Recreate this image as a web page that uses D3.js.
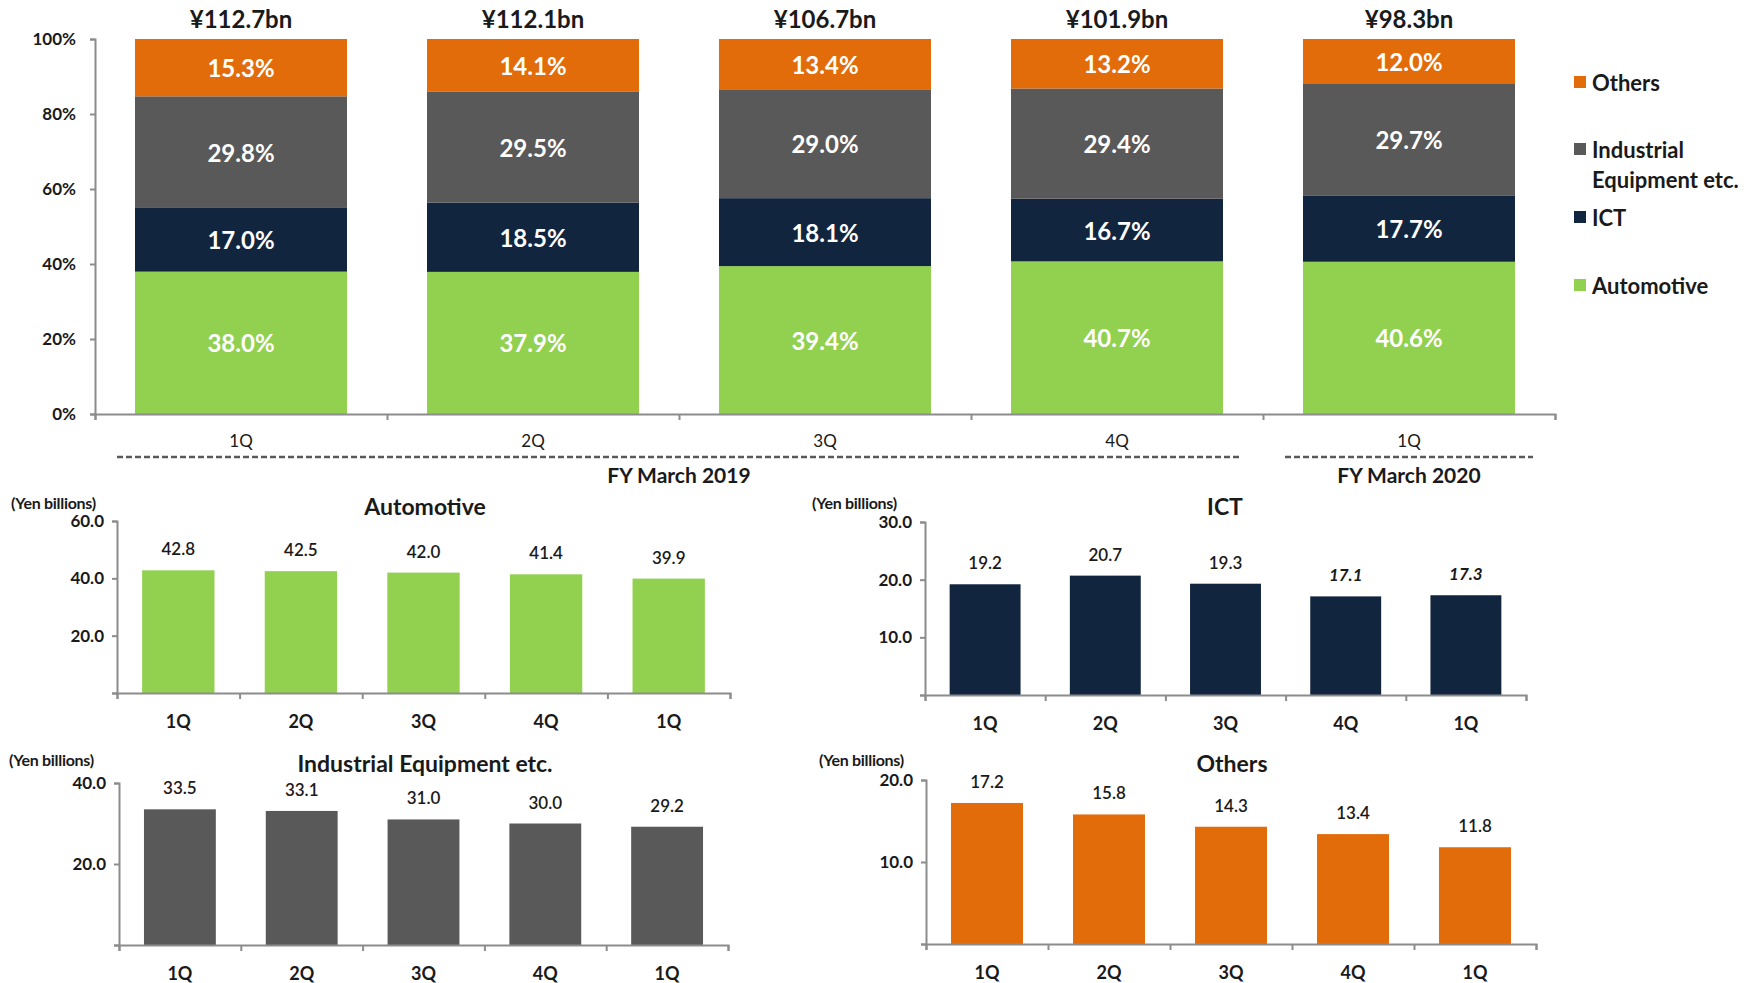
<!DOCTYPE html>
<html>
<head>
<meta charset="utf-8">
<script src="https://cdn.jsdelivr.net/npm/d3@7"></script>
<style>
  body { margin: 0; background: #fff; }
  svg text { font-family: Lato, "Open Sans", sans-serif; fill: #1a1a1a; }
  .axis path, .axis line { stroke: #8c8c8c; stroke-width: 2; }
  .axis text { font-size: 16px; font-weight: bold; fill: #1a1a1a; }
</style>
</head>
<body>
<div id="chart"></div>
<script>
// data
const quarters = ["1Q", "2Q", "3Q", "4Q", "1Q"];
const totals = [112.7, 112.1, 106.7, 101.9, 98.3];

const automotiveShare = [38.0, 37.9, 39.4, 40.7, 40.6];
const ictShare = [17.0, 18.5, 18.1, 16.7, 17.7];
const industrialShare = [29.8, 29.5, 29.0, 29.4, 29.7];
const othersShare = [15.3, 14.1, 13.4, 13.2, 12.0];
const shareTicks = [0, 20, 40, 60, 80, 100];

const automotiveSales = [42.8, 42.5, 42.0, 41.4, 39.9];
const ictSales = [19.2, 20.7, 19.3, 17.1, 17.3];
const industrialSales = [33.5, 33.1, 31.0, 30.0, 29.2];
const othersSales = [17.2, 15.8, 14.3, 13.4, 11.8];

const automotiveTicks = [0, 20, 40, 60];
const ictTicks = [0, 10, 20, 30];
const industrialTicks = [0, 20, 40];
const othersTicks = [0, 10, 20];

const fiscalYears = ["FY March 2019", "FY March 2020"];

const colors = {
    Automotive: "#92d050",
    ICT: "#12253f",
    Industrial: "#595959",
    Others: "#e36c0a"
};

const width = 1753;
const height = 983;

const svg = d3.select("#chart")
    .append("svg")
    .attr("width", width)
    .attr("height", height);

// ---------- top stacked chart ----------
const keys = ["Automotive", "ICT", "Industrial", "Others"];
const shareRows = quarters.map((q, i) => ({
    i: i,
    Automotive: automotiveShare[i],
    ICT: ictShare[i],
    Industrial: industrialShare[i],
    Others: othersShare[i]
}));

const topLeft = 95, topRight = 1555, topY0 = 414, topY1 = 39;

const xTop = d3.scaleBand()
    .domain(d3.range(quarters.length))
    .range([topLeft, topRight])
    .paddingInner(0.274)
    .paddingOuter(0.137);

const xTopEdges = d3.scaleLinear()
    .domain([0, quarters.length])
    .range([topLeft, topRight]);

const yTop = d3.scaleLinear()
    .domain([0, 1])
    .range([topY0, topY1]);

const stacked = d3.stack()
    .keys(keys)
    .offset(d3.stackOffsetExpand)(shareRows);

const topChart = svg.append("g");

topChart.selectAll("g.layer")
    .data(stacked)
    .join("g")
    .attr("class", "layer")
    .attr("fill", d => colors[d.key])
    .selectAll("rect")
    .data(d => d)
    .join("rect")
    .attr("x", d => xTop(d.data.i))
    .attr("width", xTop.bandwidth())
    .attr("y", d => yTop(d[1]))
    .attr("height", d => yTop(d[0]) - yTop(d[1]));

topChart.selectAll("g.labels")
    .data(stacked)
    .join("g")
    .attr("class", "labels")
    .selectAll("text")
    .data(d => d.map(p => ({ p: p, key: d.key })))
    .join("text")
    .attr("x", d => xTop(d.p.data.i) + xTop.bandwidth() / 2)
    .attr("y", d => (yTop(d.p[0]) + yTop(d.p[1])) / 2)
    .attr("text-anchor", "middle")
    .attr("dominant-baseline", "central")
    .style("fill", "#fff")
    .style("font-size", "24px")
    .style("font-weight", "bold")
    .text(d => d.p.data[d.key].toFixed(1) + "%");

// totals above bars
topChart.selectAll("text.total")
    .data(totals)
    .join("text")
    .attr("class", "total")
    .attr("x", (d, i) => xTop(i) + xTop.bandwidth() / 2)
    .attr("y", 28)
    .attr("text-anchor", "middle")
    .style("font-size", "24px")
    .style("font-weight", "bold")
    .text(d => "¥" + d.toFixed(1) + "bn");

topChart.append("g")
    .attr("class", "axis")
    .attr("transform", `translate(${topLeft},0)`)
    .call(d3.axisLeft(yTop)
        .tickValues(shareTicks.map(t => t / 100))
        .tickSize(5)
        .tickPadding(14)
        .tickFormat(d => Math.round(d * 100) + "%"))
    .call(g => g.selectAll("text").style("font-size", "17px"));

topChart.append("g")
    .attr("class", "axis")
    .attr("transform", `translate(0,${topY0})`)
    .call(d3.axisBottom(xTopEdges)
        .tickValues(d3.range(quarters.length + 1))
        .tickSize(6)
        .tickSizeOuter(6)
        .tickFormat(""));

topChart.append("g")
    .attr("class", "axis")
    .attr("transform", `translate(0,${topY0})`)
    .call(d3.axisBottom(xTop).tickSize(0).tickPadding(21).tickFormat(i => quarters[i]))
    .call(g => g.select(".domain").remove())
    .call(g => g.selectAll("text").style("font-weight", "normal").style("font-size", "17px"));

// fiscal year brackets
const fyRanges = [[0, 4], [4, 5]];
fyRanges.forEach((r, k) => {
    const xa = xTopEdges(r[0]) + 22;
    const xb = xTopEdges(r[1]) - 22;
    topChart.append("line")
        .attr("x1", xa)
        .attr("x2", xb)
        .attr("y1", 457)
        .attr("y2", 457)
        .attr("stroke", "#595959")
        .attr("stroke-width", 2.5)
        .attr("stroke-dasharray", "6 3");
    topChart.append("text")
        .attr("x", (xa + xb) / 2)
        .attr("y", 483)
        .attr("text-anchor", "middle")
        .style("font-size", "21px")
        .style("font-weight", "bold")
        .text(fiscalYears[k]);
});

// legend
const legendItems = [
    { key: "Others", lines: ["Others"], y: 82 },
    { key: "Industrial", lines: ["Industrial", "Equipment etc."], y: 149 },
    { key: "ICT", lines: ["ICT"], y: 217 },
    { key: "Automotive", lines: ["Automotive"], y: 285 }
];

const legend = svg.append("g");
legendItems.forEach(item => {
    legend.append("rect")
        .attr("x", 1574)
        .attr("y", item.y - 6)
        .attr("width", 12)
        .attr("height", 12)
        .attr("fill", colors[item.key]);
    const t = legend.append("text")
        .attr("y", item.y)
        .attr("dominant-baseline", "central")
        .style("font-size", "22px")
        .style("font-weight", "bold");
    item.lines.forEach((line, j) => {
        t.append("tspan")
            .attr("x", 1592)
            .attr("dy", j === 0 ? 0 : 30)
            .text(line);
    });
});

// ---------- small bar charts ----------
const drawSmall = (opt) => {
    const g = svg.append("g");

    const x = d3.scaleBand()
        .domain(d3.range(quarters.length))
        .range([opt.x0, opt.x1])
        .paddingInner(0.41)
        .paddingOuter(0.205);

    const xEdges = d3.scaleLinear()
        .domain([0, quarters.length])
        .range([opt.x0, opt.x1]);

    const y = d3.scaleLinear()
        .domain([0, opt.ticks[opt.ticks.length - 1]])
        .range([opt.yBottom, opt.yTop]);

    g.selectAll("rect")
        .data(opt.values)
        .join("rect")
        .attr("x", (d, i) => x(i))
        .attr("width", x.bandwidth())
        .attr("y", d => y(d))
        .attr("height", d => y(0) - y(d))
        .attr("fill", opt.color);

    g.selectAll("text.value")
        .data(opt.values)
        .join("text")
        .attr("class", "value")
        .attr("x", (d, i) => x(i) + x.bandwidth() / 2)
        .attr("y", d => y(d) - 15)
        .attr("text-anchor", "middle")
        .style("font-size", "17px")
        .style("font-style", (d, i) => opt.italic && opt.italic.includes(i) ? "italic" : "normal")
        .style("font-weight", (d, i) => opt.italic && opt.italic.includes(i) ? "bold" : "600")
        .text(d => d.toFixed(1));

    g.append("g")
        .attr("class", "axis")
        .attr("transform", `translate(${opt.x0},0)`)
        .call(d3.axisLeft(y)
            .tickValues(opt.ticks)
            .tickSize(5)
            .tickPadding(8)
            .tickFormat(d => d === 0 ? "" : d.toFixed(1)))
        .call(g => g.selectAll("text").style("font-size", "17px"));

    g.append("g")
        .attr("class", "axis")
        .attr("transform", `translate(0,${opt.yBottom})`)
        .call(d3.axisBottom(xEdges)
            .tickValues(d3.range(quarters.length + 1))
            .tickSize(6)
            .tickSizeOuter(6)
            .tickFormat(""));

    g.append("g")
        .attr("class", "axis")
        .attr("transform", `translate(0,${opt.yBottom})`)
        .call(d3.axisBottom(x).tickSize(0).tickPadding(22).tickFormat(i => quarters[i]))
        .call(g => g.select(".domain").remove())
        .call(g => g.selectAll("text").style("font-size", "18px"));

    g.append("text")
        .attr("x", opt.unitX)
        .attr("y", opt.titleY)
        .attr("dominant-baseline", "central")
        .style("font-size", "16px")
        .style("font-weight", "bold")
        .style("letter-spacing", "-0.3px")
        .text("(Yen billions)");

    g.append("text")
        .attr("x", opt.titleX)
        .attr("y", opt.titleY + 4)
        .attr("text-anchor", "middle")
        .attr("dominant-baseline", "central")
        .style("font-size", "23px")
        .style("font-weight", "bold")
        .text(opt.title);
};

drawSmall({ title: "Automotive", values: automotiveSales, ticks: automotiveTicks, color: colors.Automotive,
    x0: 117, x1: 730, yBottom: 693, yTop: 521, titleX: 425, titleY: 502, unitX: 11 });
drawSmall({ title: "ICT", values: ictSales, ticks: ictTicks, color: colors.ICT, italic: [3, 4],
    x0: 925, x1: 1526, yBottom: 695, yTop: 522, titleX: 1225, titleY: 502, unitX: 812 });
drawSmall({ title: "Industrial Equipment etc.", values: industrialSales, ticks: industrialTicks, color: colors.Industrial,
    x0: 119, x1: 728, yBottom: 945, yTop: 783, titleX: 425, titleY: 759, unitX: 9 });
drawSmall({ title: "Others", values: othersSales, ticks: othersTicks, color: colors.Others,
    x0: 926, x1: 1536, yBottom: 944, yTop: 780, titleX: 1232, titleY: 759, unitX: 819 });
</script>
</body>
</html>
